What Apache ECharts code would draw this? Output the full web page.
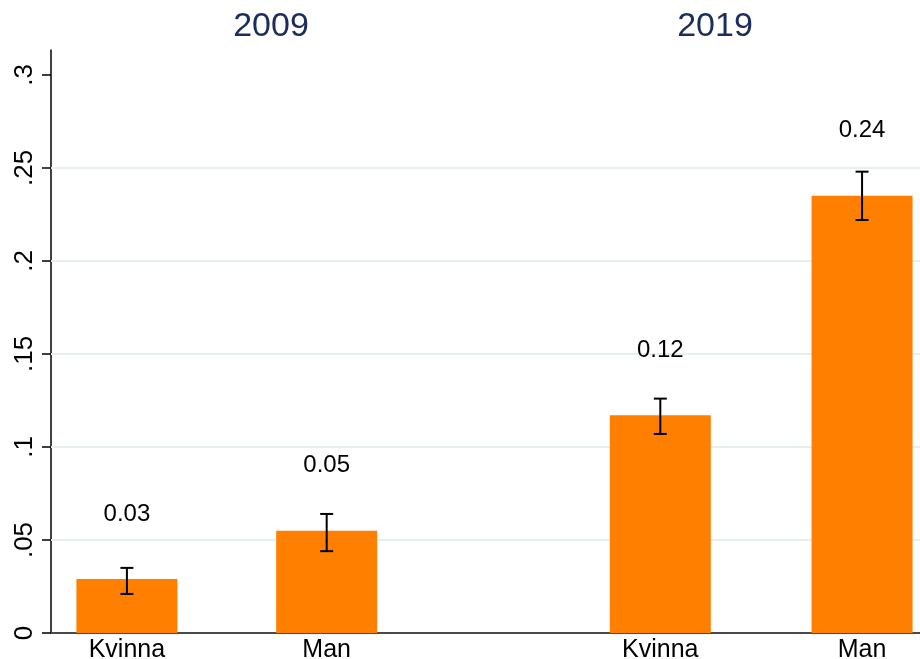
<!DOCTYPE html>
<html>
<head>
<meta charset="utf-8">
<script src="https://cdn.jsdelivr.net/npm/echarts@6/dist/echarts.min.js"></script>
<style>
  html, body { margin: 0; padding: 0; background: #fff; }
  #chart { width: 920px; height: 659px; }
</style>
</head>
<body>
<div id="chart"></div>
<script>
// data
const years = ['2009', '2019'];
const categories = ['Kvinna', 'Man', 'Kvinna', 'Man'];
const xPos = [1, 2, 3.67, 4.68];            // bar slots on the x scale
const values = [0.029, 0.055, 0.117, 0.235];
const ciLow = [0.021, 0.044, 0.107, 0.222];
const ciHigh = [0.035, 0.064, 0.126, 0.248];
const valueLabels = ['0.03', '0.05', '0.12', '0.24'];
const yTicks = [0, 0.05, 0.1, 0.15, 0.2, 0.25, 0.3];
const gridTicks = [0.05, 0.1, 0.15, 0.2, 0.25];

const chart = echarts.init(document.getElementById('chart'));

const font = 'Liberation Sans, Arial, Helvetica, sans-serif';

function yFmt(v) {
  if (Math.abs(v) < 1e-9) return '0';
  return String(+v.toFixed(2)).replace(/^0/, '');
}

const option = {
  backgroundColor: '#fff',
  animation: false,
  title: [
    { text: years[0], left: 266, top: 5, textAlign: 'center',
      textStyle: { fontFamily: font, fontSize: 34, fontWeight: 'normal', color: '#1c2d5c' } },
    { text: years[1], left: 710, top: 5, textAlign: 'center',
      textStyle: { fontFamily: font, fontSize: 34, fontWeight: 'normal', color: '#1c2d5c' } }
  ],
  grid: { left: 51, right: 0, top: 50, bottom: 26, containLabel: false, outerBoundsMode: 'none' },
  xAxis: {
    type: 'value',
    min: 0.62,
    max: 4.97,
    axisLine: { show: true, lineStyle: { color: '#4a4a4a', width: 2 } },
    axisTick: { show: false },
    splitLine: { show: false },
    axisLabel: {
      customValues: xPos,
      margin: 5,
      fontFamily: font,
      fontSize: 25,
      color: '#000',
      formatter: function (v) {
        const i = xPos.findIndex(p => Math.abs(p - v) < 1e-6);
        return i >= 0 ? categories[i] : '';
      }
    }
  },
  yAxis: {
    type: 'value',
    min: 0,
    max: 0.3134,
    axisLine: { show: true, lineStyle: { color: '#000', width: 1.5 } },
    axisTick: { show: true, customValues: yTicks, length: 9, lineStyle: { color: '#000', width: 1.5 } },
    splitLine: { show: false },
    axisLabel: {
      customValues: yTicks,
      rotate: 90,
      margin: 13,
      fontFamily: font,
      fontSize: 26,
      color: '#000',
      formatter: yFmt
    }
  },
  series: [
    {
      // light gridlines, kept behind the bars
      type: 'line',
      data: [],
      z: 1,
      markLine: {
        silent: true,
        z: 1,
        symbol: 'none',
        label: { show: false },
        lineStyle: { color: '#e6eef0', width: 2, type: 'solid' },
        data: gridTicks.map(t => ({ yAxis: t }))
      }
    },
    {
      type: 'bar',
      barWidth: 101,
      itemStyle: { color: '#ff8000' },
      data: values.map((v, i) => [xPos[i], v]),
      label: {
        show: true,
        position: 'top',
        distance: 53,
        fontFamily: font,
        fontSize: 24,
        color: '#000',
        formatter: p => valueLabels[p.dataIndex]
      },
      z: 2
    },
    {
      type: 'custom',
      z: 3,
      data: xPos.map((x, i) => [x, ciLow[i], ciHigh[i]]),
      renderItem: function (params, api) {
        const lo = api.coord([api.value(0), api.value(1)]);
        const hi = api.coord([api.value(0), api.value(2)]);
        const half = 6.5;
        const style = { stroke: '#000', lineWidth: 2 };
        return {
          type: 'group',
          children: [
            { type: 'line', shape: { x1: lo[0], y1: lo[1], x2: hi[0], y2: hi[1] }, style },
            { type: 'line', shape: { x1: hi[0] - half, y1: hi[1], x2: hi[0] + half, y2: hi[1] }, style },
            { type: 'line', shape: { x1: lo[0] - half, y1: lo[1], x2: lo[0] + half, y2: lo[1] }, style }
          ]
        };
      }
    }
  ]
};

chart.setOption(option);
</script>
</body>
</html>
